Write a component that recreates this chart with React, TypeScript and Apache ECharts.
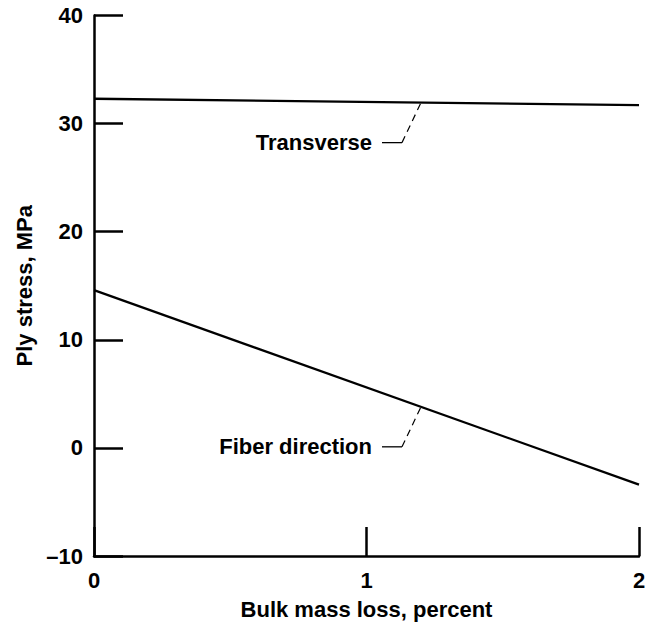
import React, { useEffect, useRef } from "react";
import * as echarts from "echarts";

const xPoints = [0, 2];
const transverseValues = [32.3, 31.7];
const fiberValues = [14.6, -3.4];
const xTickValues = [0, 1, 2];
const yTickValues = [-10, 0, 10, 20, 30, 40];
const xTitle = "Bulk mass loss, percent";
const yTitle = "Ply stress, MPa";
const annotationLabels = ["Transverse", "Fiber direction"];
const annotationAt = [1.2, 1.2];

const FONT = "'Liberation Sans', Arial, Helvetica, sans-serif";

function lerp(xs: number[], ys: number[], x: number) {
  const t = (x - xs[0]) / (xs[1] - xs[0]);
  return ys[0] + t * (ys[1] - ys[0]);
}

export default function App() {
  const ref = useRef<HTMLDivElement>(null);
  useEffect(() => {
    document.body.style.margin = "0";
    if (!ref.current) return;
    const chart = echarts.init(ref.current, null, { renderer: "svg" });
    const labelStyle = {
      color: "#000",
      fontFamily: FONT,
      fontWeight: "bold" as const,
      fontSize: 22,
    };
    const axisCommon = {
      axisLine: { show: true, onZero: false, lineStyle: { color: "#000", width: 2.5 } },
      axisTick: { show: true, inside: true, length: 29, lineStyle: { color: "#000", width: 2.5 } },
      splitLine: { show: false },
      nameTextStyle: { ...labelStyle },
    };
    const seriesData = [transverseValues, fiberValues];
    chart.setOption({
      animation: false,
      backgroundColor: "#fff",
      grid: { left: 94, right: 11, top: 15.5, bottom: 70, containLabel: false },
      xAxis: {
        type: "value",
        min: xTickValues[0],
        max: xTickValues[xTickValues.length - 1],
        interval: 1,
        name: xTitle,
        nameLocation: "middle",
        nameGap: 42,
        ...axisCommon,
        axisLabel: { ...labelStyle, margin: 13 },
      },
      yAxis: {
        type: "value",
        min: yTickValues[0],
        max: yTickValues[yTickValues.length - 1],
        interval: 10,
        name: yTitle,
        nameLocation: "middle",
        nameGap: 52,
        ...axisCommon,
        axisLabel: {
          ...labelStyle,
          margin: 11,
          formatter: (v: number) => String(v).replace("-", "\u2013"),
        },
      },
      series: seriesData.map((vals, i) => ({
        type: "line",
        name: annotationLabels[i],
        data: xPoints.map((x, j) => [x, vals[j]]),
        showSymbol: false,
        lineStyle: { color: "#000", width: 2.3 },
        silent: true,
      })),
    });

    const graphics: any[] = [];
    seriesData.forEach((vals, i) => {
      const xv = annotationAt[i];
      const yv = lerp(xPoints, vals, xv);
      const p = chart.convertToPixel({ gridIndex: 0 }, [xv, yv]) as number[];
      const bx = p[0] - 19;
      const by = p[1] + 40;
      graphics.push({
        type: "line",
        shape: { x1: bx - 20, y1: by, x2: bx, y2: by },
        style: { stroke: "#000", lineWidth: 1.3 },
        silent: true,
      });
      graphics.push({
        type: "line",
        shape: { x1: bx, y1: by, x2: p[0], y2: p[1] },
        style: { stroke: "#000", lineWidth: 1.2, lineDash: [7, 5] },
        silent: true,
      });
      graphics.push({
        type: "text",
        x: bx - 30,
        y: by,
        style: {
          text: annotationLabels[i],
          fill: "#000",
          font: `bold 22px ${FONT}`,
          align: "right",
          verticalAlign: "middle",
        },
        silent: true,
      });
    });
    chart.setOption({ graphic: graphics });

    return () => chart.dispose();
  }, []);
  return <div ref={ref} style={{ width: 650, height: 626 }} />;
}
